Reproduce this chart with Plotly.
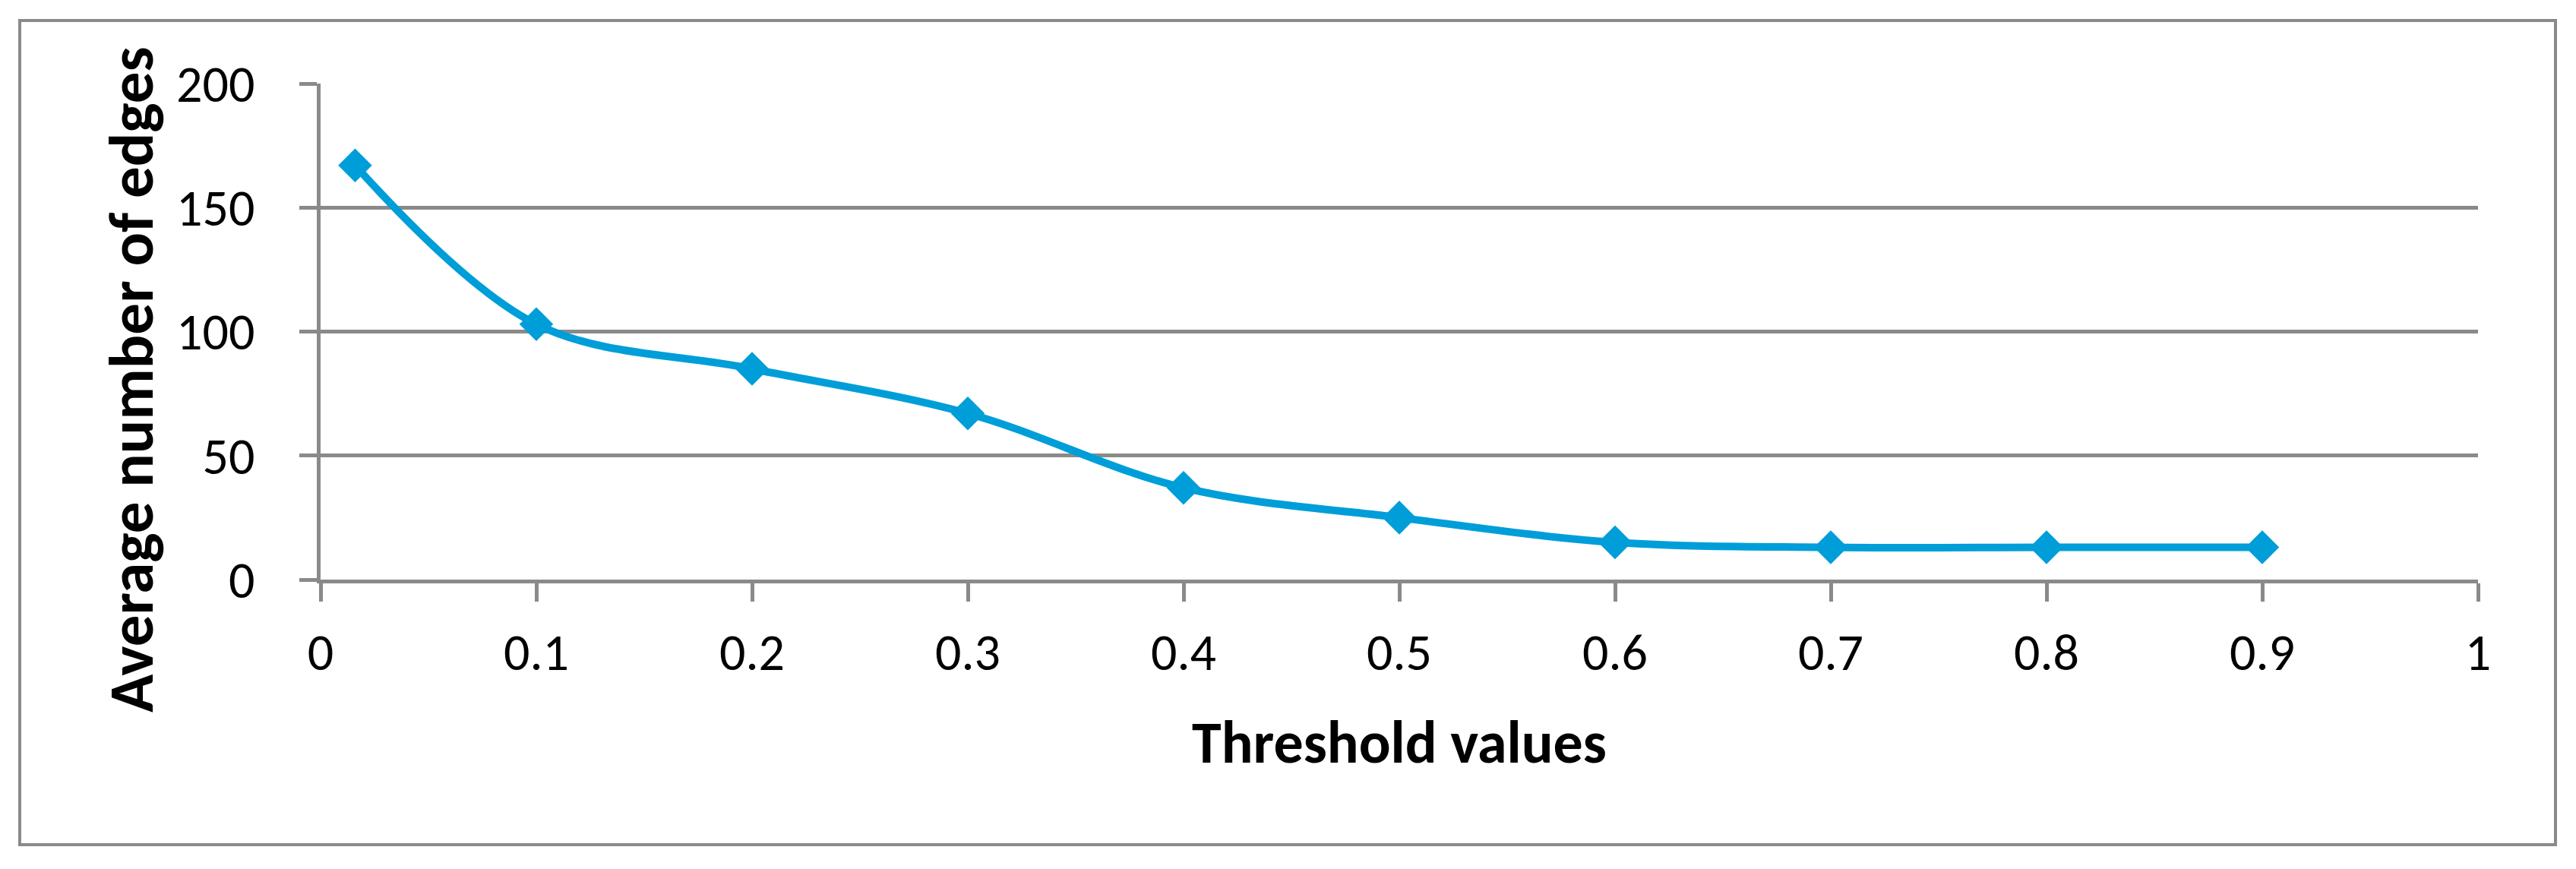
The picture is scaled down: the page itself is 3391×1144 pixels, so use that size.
import plotly.graph_objects as go

# ---- data ----
threshold = [0.016, 0.1, 0.2, 0.3, 0.4, 0.5, 0.6, 0.7, 0.8, 0.9]
avg_edges = [167, 103, 85, 67, 37, 25, 15, 13, 13, 13]

x_tickvals = [0, 0.1, 0.2, 0.3, 0.4, 0.5, 0.6, 0.7, 0.8, 0.9, 1]
x_ticktext = ["0", "0.1", "0.2", "0.3", "0.4", "0.5", "0.6", "0.7", "0.8", "0.9", "1"]
y_tickvals = [0, 50, 100, 150, 200]
y_ticktext = ["0", "50", "100", "150", "200"]

x_title = "Threshold values"
y_title = "Average number of edges"

# ---- style ----
FONT = "Carlito, Calibri, Lato, 'Open Sans', sans-serif"
GRAY = "#8a8a8a"
BLUE = "#009ed9"

OFF = 8  # default body margin of the html page
W, H = 3391 - 2 * OFF, 1144 - 2 * OFF
# plot area in screen pixels: x 422..3262, y 110..763
L = 422 - OFF
T = 110 - OFF
R = W - (3262 - OFF)
B = H - (763 - OFF)

fig = go.Figure()
fig.add_trace(go.Scatter(
    x=threshold, y=avg_edges,
    mode="lines+markers",
    line=dict(color=BLUE, width=10, shape="spline", smoothing=1.0),
    marker=dict(symbol="diamond", size=31, color=BLUE, line=dict(width=3, color=BLUE)),
    showlegend=False,
))

pw, ph = W - L - R, H - T - B
def px_x(sx):
    return (sx - OFF - L) / pw
def px_y(sy):
    return (H - B - (sy - OFF)) / ph

fig.update_layout(
    width=W, height=H,
    margin=dict(l=L, r=R, t=T, b=B, pad=0),
    paper_bgcolor="white", plot_bgcolor="white",
    font=dict(family=FONT, color="black", size=68),
    xaxis=dict(
        range=[0, 1], tickmode="array", tickvals=x_tickvals, ticktext=x_ticktext,
        showgrid=False, zeroline=False,
        showline=True, linecolor=GRAY, linewidth=5,
        ticks="outside", ticklen=24, tickwidth=5, tickcolor=GRAY,
        tickfont=dict(size=68, family=FONT),
        ticklabelstandoff=8,
        title=dict(text=f"<b>{x_title}</b>", font=dict(size=78, family=FONT), standoff=52),
        automargin=False,
    ),
    yaxis=dict(
        range=[0, 200], tickmode="array", tickvals=y_tickvals, ticktext=y_ticktext,
        showgrid=True, gridcolor=GRAY, gridwidth=5,
        zeroline=False,
        showline=True, linecolor=GRAY, linewidth=5,
        ticks="outside", ticklen=23, tickwidth=5, tickcolor=GRAY,
        tickfont=dict(size=68, family=FONT),
        ticklabelstandoff=45,
        automargin=False,
    ),
    annotations=[dict(
        text=f"<b>{y_title}</b>", textangle=-90,
        xref="paper", yref="paper", x=px_x(172), y=px_y(500),
        xanchor="center", yanchor="middle", showarrow=False,
        font=dict(size=83, family=FONT, color="black"),
    )],
)

# outer chart border
fig.add_shape(type="rect", xref="paper", yref="paper",
              x0=px_x(26), x1=px_x(3364), y0=px_y(1112), y1=px_y(27),
              line=dict(color=GRAY, width=4), fillcolor="rgba(0,0,0,0)", layer="below")

fig.write_html("out.html")
